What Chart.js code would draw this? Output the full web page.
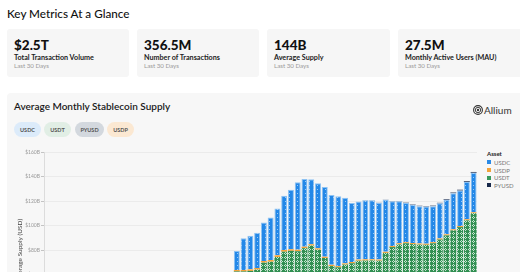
<!DOCTYPE html>
<html>
<head>
<meta charset="utf-8">
<script src="https://cdn.jsdelivr.net/npm/chart.js@4.4.1/dist/chart.umd.min.js"></script>
<style>
  html, body { margin: 0; padding: 0; width: 520px; height: 272px; overflow: hidden; background: #fff; font-family: Lato, "Open Sans", sans-serif; color: #111; }
  #head { position: absolute; left: 7px; top: 6px; font-size: 11.7px; font-weight: 500; white-space: nowrap; }
  .card { position: absolute; top: 29px; width: 122px; height: 48px; background: #f6f6f6; border-radius: 3px; }
  .card .v { position: absolute; left: 7px; top: 8px; font-size: 13.5px; font-weight: 900; line-height: 1.2; white-space: nowrap; }
  .card .l { position: absolute; left: 7px; top: 24px; font-size: 7.2px; font-weight: 700; color: #222; white-space: nowrap; }
  .card .s { position: absolute; left: 7px; top: 33px; font-size: 6.2px; color: #9a9a9a; white-space: nowrap; }
  #panel { position: absolute; left: 7px; top: 93px; width: 530px; height: 200px; background: #f7f7f7; border-radius: 4px; }
  #ctitle { position: absolute; left: 14px; top: 100px; font-size: 10px; font-weight: 600; color: #1a1a1a; white-space: nowrap; }
  #brand { position: absolute; left: 473px; top: 104px; font-size: 10px; color: #333; white-space: nowrap; display: flex; align-items: center; }
  #brand svg { margin-right: 1px; }
  .pill { position: absolute; top: 122px; height: 15px; border-radius: 8px; font-size: 5.5px; font-weight: 700; color: #555; display: flex; align-items: center; justify-content: center; }
  #legend { position: absolute; left: 487px; top: 150px; font-size: 6px; color: #777; }
  #legend .t { font-weight: 700; color: #222; margin-bottom: 1.5px; }
  #legend .i { display: flex; align-items: center; height: 7.7px; }
  #legend .sq { width: 4px; height: 4px; margin-right: 3px; }
  #chartBox { position: absolute; left: 8px; top: 140px; }
</style>
</head>
<body>
<div id="head">Key Metrics At a Glance</div>
<div class="card" style="left:7px"><div class="v">$2.5T</div><div class="l">Total Transaction Volume</div><div class="s">Last 30 Days</div></div>
<div class="card" style="left:137px"><div class="v">356.5M</div><div class="l">Number of Transactions</div><div class="s">Last 30 Days</div></div>
<div class="card" style="left:267px;width:123px"><div class="v">144B</div><div class="l">Average Supply</div><div class="s">Last 30 Days</div></div>
<div class="card" style="left:398px;width:130px"><div class="v">27.5M</div><div class="l">Monthly Active Users (MAU)</div><div class="s">Last 30 Days</div></div>

<div id="panel"></div>
<div id="ctitle">Average Monthly Stablecoin Supply</div>
<div id="brand">
  <svg width="10" height="10" viewBox="0 0 10 10">
    <circle cx="5" cy="5" r="4.4" fill="none" stroke="#333" stroke-width="1.1"/>
    <circle cx="5" cy="5" r="2.7" fill="none" stroke="#333" stroke-width="0.9"/>
    <circle cx="5" cy="5" r="1.2" fill="#333"/>
  </svg>Allium
</div>
<div class="pill" style="left:14px;width:27px;background:#dcebfa">USDC</div>
<div class="pill" style="left:44px;width:27px;background:#e1eee5">USDT</div>
<div class="pill" style="left:75px;width:29px;background:#d3d8de">PYUSD</div>
<div class="pill" style="left:107px;width:27px;background:#fbe8d2">USDP</div>

<div id="legend">
  <div class="t">Asset</div>
  <div class="i"><span class="sq" style="background:#2a8ae6"></span>USDC</div>
  <div class="i"><span class="sq" style="background:#f2a33a"></span>USDP</div>
  <div class="i"><span class="sq" style="background:#3a9a5c"></span>USDT</div>
  <div class="i"><span class="sq" style="background:#17284a"></span>PYUSD</div>
</div>

<div id="chartBox"><canvas id="supplyChart" width="469" height="240"></canvas></div>

<script>
// months on the x axis (axis labels are below the visible area)
const months = [
  "2019-09","2019-10","2019-11","2019-12",
  "2020-01","2020-02","2020-03","2020-04","2020-05","2020-06","2020-07","2020-08","2020-09","2020-10","2020-11","2020-12",
  "2021-01","2021-02","2021-03","2021-04","2021-05","2021-06","2021-07","2021-08","2021-09","2021-10","2021-11","2021-12",
  "2022-01","2022-02","2022-03","2022-04","2022-05","2022-06","2022-07","2022-08","2022-09","2022-10","2022-11","2022-12",
  "2023-01","2023-02","2023-03","2023-04","2023-05","2023-06","2023-07","2023-08","2023-09","2023-10","2023-11","2023-12",
  "2024-01","2024-02","2024-03","2024-04","2024-05","2024-06","2024-07","2024-08","2024-09","2024-10","2024-11","2024-12"
];

// average supply, $B
const usdt = [
  2.0, 2.2, 2.5, 2.9, 3.3, 3.9, 4.8, 5.6, 6.4, 7.2, 8.1, 8.9, 9.8, 10.9, 12.2, 13.6,
  15.1, 17.0, 19.3, 22.0, 24.6, 27.2, 30.1, 33.4, 36.0, 38.5, 40.6, 42.1,
  62.5, 62.5, 62.9, 64.0, 69.7, 70.4, 74.3, 78.6, 79.3, 79.0, 81.5, 83.6,
  80.3, 73.5, 66.9, 65.9, 68.1, 69.2, 71.2, 71.4, 71.5, 71.3, 77.6, 82.4,
  84.6, 85.5, 84.8, 84.4, 84.2, 85.5, 88.5, 91.9, 96.0, 98.7, 104.2, 109.9
];
const usdp = [
  0.1, 0.1, 0.1, 0.1, 0.2, 0.2, 0.2, 0.2, 0.2, 0.2, 0.3, 0.3, 0.3, 0.3, 0.4, 0.4,
  0.5, 0.5, 0.6, 0.7, 0.7, 0.8, 0.8, 0.9, 0.9, 1.0, 1.0, 1.1,
  1.2, 1.2, 1.3, 1.3, 1.3, 1.4, 1.4, 1.4, 1.3, 1.2, 1.2, 1.1,
  1.1, 1.0, 1.0, 1.0, 1.0, 1.0, 1.0, 1.0, 0.9, 0.9, 0.9, 0.9,
  0.9, 0.9, 0.9, 0.9, 0.9, 0.9, 0.9, 0.9, 0.9, 0.9, 0.9, 0.9
];
const usdc = [
  0.5, 0.5, 0.6, 0.6, 0.7, 0.7, 0.8, 1.0, 1.4, 1.9, 2.4, 2.8, 3.1, 3.6, 4.2, 5.1,
  6.3, 7.4, 8.6, 9.8, 10.9, 11.6, 12.3, 13.1, 13.8, 14.4, 14.9, 15.3,
  15.5, 25.9, 27.5, 28.8, 31.4, 34.7, 38.2, 44.3, 48.5, 55.1, 55.3, 53.0,
  53.1, 56.9, 57.0, 56.9, 53.6, 48.2, 47.4, 48.3, 48.3, 46.4, 42.5, 36.5,
  34.3, 31.9, 31.3, 30.5, 30.4, 29.4, 28.7, 28.3, 29.5, 29.0, 30.6, 32.3
];
const pyusd = [
  0, 0, 0, 0, 0, 0, 0, 0, 0, 0, 0, 0, 0, 0, 0, 0,
  0, 0, 0, 0, 0, 0, 0, 0, 0, 0, 0, 0,
  0, 0, 0, 0, 0, 0, 0, 0, 0, 0, 0, 0,
  0, 0, 0, 0, 0, 0, 0, 0.1, 0.1, 0.1, 0.1, 0.2,
  0.2, 0.3, 0.3, 0.3, 0.3, 0.4, 0.4, 0.5, 0.5, 0.6, 0.6, 0.6
];
const yTicks = [0, 20, 40, 60, 80, 100, 120, 140, 160];

// small repeating fills for the bars
function makePattern(bg, fg, dots) {
  const c = document.createElement("canvas");
  c.width = 4; c.height = 4;
  const x = c.getContext("2d");
  x.fillStyle = bg;
  x.fillRect(0, 0, 4, 4);
  x.fillStyle = fg;
  dots.forEach(([a, b]) => x.fillRect(a, b, 1, 1));
  return x.createPattern(c, "repeat");
}

const blueFill = makePattern("#2388e8", "rgba(255,255,255,0.55)", [[1, 1]]);
const greenFill = makePattern("#318f52", "rgba(215,240,222,0.9)", [[1, 0], [0, 1], [2, 1], [1, 2]]);

const ctx = document.getElementById("supplyChart").getContext("2d");

new Chart(ctx, {
  type: "bar",
  data: {
    labels: months,
    datasets: [
      { label: "USDT", data: usdt, backgroundColor: greenFill, borderWidth: 0 },
      { label: "USDP", data: usdp, backgroundColor: "#f2a33a", borderWidth: 0 },
      { label: "USDC", data: usdc, backgroundColor: blueFill, borderColor: "#8cc2f3", borderWidth: { left: 1, right: 1, top: 1, bottom: 0 } },
      { label: "PYUSD", data: pyusd, backgroundColor: "#17284a", borderWidth: 0 }
    ].map(d => Object.assign(d, { barPercentage: 0.88, categoryPercentage: 1 }))
  },
  options: {
    responsive: false,
    animation: false,
    layout: { padding: { top: 12, bottom: 32, left: 0, right: 0 } },
    plugins: {
      legend: { display: false },
      tooltip: { enabled: false }
    },
    scales: {
      x: { stacked: true, display: false },
      y: {
        stacked: true,
        min: 0,
        max: 160,
        afterFit: s => { s.width = 36; },
        afterBuildTicks: s => { s.ticks = yTicks.map(v => ({ value: v })); },
        ticks: {
          color: "#999",
          padding: 1,
          font: { size: 5, family: "Lato" },
          callback: v => "$" + v + "B"
        },
        grid: { color: "#ebebeb", tickColor: "#c4c4c4", tickLength: 3 },
        border: { color: "#dcdcdc" },
        title: {
          display: true,
          text: "Average Supply (USD)",
          color: "#444",
          font: { size: 6.5, family: "Lato" },
          padding: { top: 8.5, bottom: 0 }
        }
      }
    }
  }
});
</script>
</body>
</html>
